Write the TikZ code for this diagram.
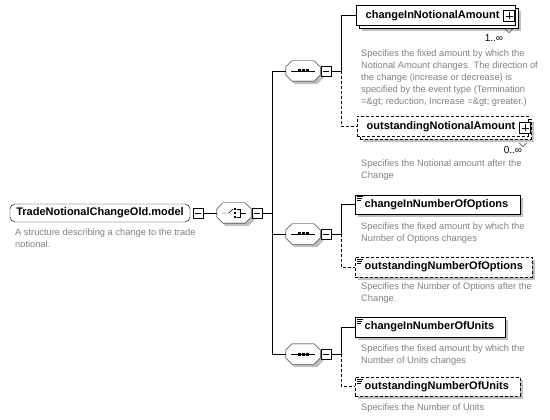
\documentclass[tikz,border=0pt]{standalone}
\usepackage{fontspec}
\setmainfont{Liberation Sans}
\usetikzlibrary{calc,positioning,shadows}
\definecolor{notegray}{RGB}{128,128,128}
\definecolor{shadegray}{RGB}{192,192,192}
\newcommand{\labfont}{\fontsize{11}{13}\selectfont\bfseries}
\newcommand{\notefont}{\fontsize{9.3}{12}\selectfont}
% outline of a compositor box, cut at the corners
\newcommand{\compositorpath}[1]{([xshift=6pt]#1.north west) -- ([xshift=-6pt]#1.north east)
  -- ([yshift=-6pt]#1.north east) -- ([yshift=6pt]#1.south east) -- ([xshift=-6pt]#1.south east)
  -- ([xshift=6pt]#1.south west) -- ([yshift=6pt]#1.south west) -- ([yshift=-6pt]#1.north west) -- cycle}

\tikzset{
  boxshadow/.style={drop shadow={shadow xshift=3pt, shadow yshift=-3pt, fill=shadegray, opacity=1}},
  stackshadow/.style={drop shadow={shadow xshift=6pt, shadow yshift=-6pt, fill=shadegray, opacity=1},
                      copy shadow={shadow xshift=3pt, shadow yshift=-3pt}},
  elem/.style={draw, fill=white, anchor=west, text width=#1, align=left, minimum height=20pt,
               inner xsep=9.5pt, inner ysep=0pt, font=\labfont},
  optional/.style={dash pattern=on 3pt off 2pt},
  rootbox/.style={draw, fill=white, rounded corners=5pt, minimum width=180pt, minimum height=18pt, inner sep=0pt, font=\labfont},
  seqbox/.style={minimum width=34pt, minimum height=20pt, inner sep=0pt},
  minusbox/.style={draw, fill=white, minimum size=10pt, inner sep=0pt,
    path picture={\draw ([xshift=2pt]path picture bounding box.west) -- ([xshift=-2pt]path picture bounding box.east);}},
  plusbox/.style={draw, fill=white, minimum size=11pt, inner sep=0pt,
    path picture={\draw ([xshift=2pt]path picture bounding box.west) -- ([xshift=-2pt]path picture bounding box.east);
                  \draw ([yshift=-2pt]path picture bounding box.north) -- ([yshift=2pt]path picture bounding box.south);}},
  note/.style={anchor=north west, inner sep=0pt, align=left, text=notegray, font=\notefont},
  count/.style={inner sep=0pt, font=\fontsize{10}{12}\selectfont}
}

\begin{document}
\begin{tikzpicture}[x=1pt, y=-1pt]
    \useasboundingbox (0,0) rectangle (550,420);

    % Root element and the choice
    \node[rootbox] (root) at (100,213) {TradeNotionalChangeOld.model};
    \node[minusbox] (rootminus) at (198,213) {};
    \node[note] (rootnote) at (15,229) {A structure describing a change to the trade\\notional.};
    \node[seqbox] (choice) at (234,213) {};
    \node[seqbox] (seqA) at (303,71) {};
    \node[seqbox] (seqB) at (303,234) {};
    \node[seqbox] (seqC) at (303,354) {};
    % Compositor outlines with their shadows
    \foreach \s in {choice,seqA,seqB,seqC} {
        \fill[shadegray, transform canvas={shift={(3pt,-3pt)}}] \compositorpath{\s};
        \draw[fill=white] \compositorpath{\s};
        \node[minusbox] (\s minus) at ([xshift=23pt]\s.center) {};
    }
    \draw (rootminus) -- (choice);
    \draw ([xshift=-12pt]choice.center) -- ++(7,0) -- ++(4,-4);
    \foreach \d in {-4,0,4} {
        \fill ([xshift=1pt,yshift=\d pt]choice.center) +(-1.2pt,-1.2pt) rectangle +(1.2pt,1.2pt);
    }
    \draw ([xshift=3pt,yshift=4pt]choice.center) -- ++(3,0) -- ++(0,8) -- ++(-3,0);
    \draw (choice.center) ++(6,0) -- ++(6,0);

    % Three sequences on the fork
    \coordinate (fork) at (272,213);
    \draw (choiceminus) -- (fork);
    \foreach \s in {seqA,seqB,seqC} {
        \coordinate (\s fork) at ([xshift=10pt]\s minus.east);
        \draw (fork |- \s) -- (\s);
        \draw (\s minus) -- (\s fork);
        \draw ([xshift=-12pt]\s.center) -- ([xshift=12pt]\s.center);
        \foreach \d in {-4,0,4} {
            \fill ([xshift=\d pt]\s.center) +(-1.5pt,-1.5pt) rectangle +(1.5pt,1.5pt);
        }
    }
    \draw (fork |- seqA) -- (fork |- seqC);

    % Elements of the first sequence
    \node[elem=140pt, stackshadow] (eA1) at (356,15.5) {changeInNotionalAmount};
    \node[plusbox] (pA1) at (509,16) {};
    \draw ([shift={(-4pt,-7pt)}]pA1.south) -- ++(4,4) -- ++(4,-4);
    \node[count] (cA1) at (494,38) {1..∞};
    \node[note] (nA1) at (361,50) {Specifies the fixed amount by which the\\Notional Amount changes. The direction of\\the change (increase or decrease) is\\specified by the event type (Termination\\=\&gt; reduction, Increase =\&gt; greater.)};
    \node[elem=152pt, optional, stackshadow] (eA2) at (357,126.5) {outstandingNotionalAmount};
    \node[plusbox] (pA2) at (525,128) {};
    \draw ([shift={(-6pt,-9pt)}]pA2.south) -- ++(4,4) -- ++(4,-4);
    \node[count] (cA2) at (513,150) {0..∞};
    \node[note] (nA2) at (361,160) {Specifies the Notional amount after the\\Change};
    \draw (seqAfork) |- (eA1);
    \draw[optional] (seqAfork) |- (eA2);

    % Elements of the second sequence
    \node[elem=146pt, minimum height=19pt, boxshadow] (eB1) at (355,204.5) {changeInNumberOfOptions};
    \node[note] (nB1) at (361,223) {Specifies the fixed amount by which the\\Number of Options changes};
    \node[elem=158pt, optional, boxshadow] (eB2) at (355,267) {outstandingNumberOfOptions};
    \node[note] (nB2) at (361,283) {Specifies the Number of Options after the\\Change.};
    \draw (seqBfork) |- (eB1);
    \draw[optional] (seqBfork) |- (eB2);

    % Elements of the third sequence
    \node[elem=131pt, boxshadow] (eC1) at (355,327) {changeInNumberOfUnits};
    \node[note] (nC1) at (361,345) {Specifies the fixed amount by which the\\Number of Units changes};
    \node[elem=146pt, minimum height=19pt, optional, boxshadow] (eC2) at (355,386.5) {outstandingNumberOfUnits};
    \node[note] (nC2) at (361,404) {Specifies the Number of Units};
    \draw (seqCfork) |- (eC1);
    \draw[optional] (seqCfork) |- (eC2);

    % Simple type marks
    \foreach \e in {eB1,eB2,eC1,eC2} {
        \foreach \k/\w in {2/6,4/5,6/4} {
            \draw[line width=0.6pt] ([xshift=2pt,yshift=-\k pt]\e.north west) -- ++(\w,0);
        }
    }
\end{tikzpicture}
\end{document}
